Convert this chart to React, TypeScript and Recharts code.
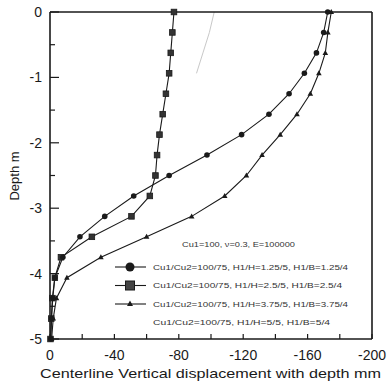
import React from 'react';
import { LineChart, Line, XAxis, YAxis, Legend } from 'recharts';

// depth stations (m), shared by every curve
const depth = [0, -0.3125, -0.625, -0.9375, -1.25, -1.5625, -1.875, -2.1875, -2.5, -2.8125, -3.125, -3.4375, -3.75, -4.0625, -4.375, -4.6875, -5];

// centerline vertical displacement (mm) at each depth station
const dispH125 = [-172.5, -170, -165.5, -158, -148.5, -136, -119, -97.5, -74, -52, -34, -18.6, -8, -3, -1.7, -1, -0.5];
const dispH25 = [-77, -76, -75, -74, -72, -70, -68, -66.5, -65.5, -62, -50.6, -26, -6.8, -3, -1.5, -0.8, -0.3];
const dispH375 = [-174.7, -172.6, -171, -167, -161.7, -153.4, -143, -131.7, -122, -108.5, -88, -60, -31.6, -10.5, -4, -2, -1];
const dispH5 = [-102, -99, -95, -91];

const xTicks = [0, -20, -40, -60, -80, -100, -120, -140, -160, -180, -200];
const yTicks = [0, -0.5, -1, -1.5, -2, -2.5, -3, -3.5, -4, -4.5, -5];

const legendHeader = 'Cu1=100, \u03bd=0.3, E=100000';
const seriesNames = [
  'Cu1/Cu2=100/75, H1/H=1.25/5, H1/B=1.25/4',
  'Cu1/Cu2=100/75, H1/H=2.5/5, H1/B=2.5/4',
  'Cu1/Cu2=100/75, H1/H=3.75/5, H1/B=3.75/4',
  'Cu1/Cu2=100/75, H1/H=5/5, H1/B=5/4',
];

const toPoints = (xs: number[]) => xs.map((x, i) => ({ x, y: depth[i] }));

const INK = '#1a1a1a';
const FONT = '"Liberation Sans", Arial, sans-serif';

const CircleDot = (p: any) => <circle key={`c${p.index}`} cx={p.cx} cy={p.cy} r={2.8} fill={INK} />;
const SquareDot = (p: any) => (
  <rect key={`s${p.index}`} x={p.cx - 2.8} y={p.cy - 2.8} width={5.6} height={5.6} fill="#333" stroke={INK} strokeWidth={0.8} />
);
const TriDot = (p: any) => (
  <path key={`t${p.index}`} d={`M${p.cx},${p.cy - 3} L${p.cx + 2.8},${p.cy + 2} L${p.cx - 2.8},${p.cy + 2} Z`} fill={INK} />
);

const BottomTick = ({ x, y, payload }: any) => (
  <g>
    <line x1={x} y1={y} x2={x} y2={y - 5} stroke={INK} strokeWidth={1.2} />
    {payload.value % 40 === 0 && (
      <text x={x} y={y + 21} textAnchor="middle" fontSize={14} fontFamily={FONT} fill={INK}>
        {payload.value}
      </text>
    )}
  </g>
);

const TopTick = ({ x, y }: any) => <line x1={x} y1={y} x2={x} y2={y + 5} stroke={INK} strokeWidth={1.2} />;

const LeftTick = ({ x, y, payload }: any) => {
  const major = Number.isInteger(payload.value);
  return (
    <g>
      <line x1={x} y1={y} x2={x + (major ? 9 : 5)} y2={y} stroke={INK} strokeWidth={1.2} />
      {major && (
        <text x={x - 8} y={y + 5} textAnchor="end" fontSize={14} fontFamily={FONT} fill={INK}>
          {payload.value}
        </text>
      )}
    </g>
  );
};

const RightTick = ({ x, y, payload }: any) => {
  const major = Number.isInteger(payload.value);
  return <line x1={x} y1={y} x2={x - (major ? 10 : 5)} y2={y} stroke={INK} strokeWidth={1.2} />;
};

const DepthTitle = () => (
  <text x={19} y={176} transform="rotate(-90 19 176)" textAnchor="middle" fontSize={13} fontFamily={FONT} fill={INK}>
    Depth m
  </text>
);

const DispTitle = () => (
  <text x={40} y={378} textLength={341} lengthAdjust="spacingAndGlyphs" fontSize={13.5} fontFamily={FONT} fill={INK}>
    Centerline Vertical displacement with depth  mm
  </text>
);

// legend box drawn in the lower right of the plot
const rowY = [35, 53.5, 72, 90.5];
const rowWidths = [195, 189, 195, 177];

const LegendBox = () => (
  <svg width={280} height={100} style={{ display: 'block' }}>
    <text x={82} y={15} textLength={113} lengthAdjust="spacingAndGlyphs" fontSize={7} fontFamily={FONT} fill="#333">
      {legendHeader}
    </text>
    {seriesNames.map((name, i) => {
      const cy = rowY[i];
      return (
        <g key={name}>
          {i < 3 && <line x1={15} y1={cy} x2={46} y2={cy} stroke={INK} strokeWidth={1.1} />}
          {i === 0 && <circle cx={30} cy={cy} r={4.5} fill={INK} />}
          {i === 1 && <rect x={25.5} y={cy - 4.5} width={9} height={9} fill="#444" stroke={INK} strokeWidth={1} />}
          {i === 2 && <path d={`M30,${cy - 3.5} L33,${cy + 2} L27,${cy + 2} Z`} fill={INK} />}
          <text x={53} y={cy + 2.5} textLength={rowWidths[i]} lengthAdjust="spacingAndGlyphs" fontSize={7} fontFamily={FONT} fill="#333">
            {name}
          </text>
        </g>
      );
    })}
  </svg>
);

export default function App() {
  return (
    <div style={{ position: 'absolute', left: 0, top: 0, width: 392, height: 386, background: '#fff' }}>
      <LineChart width={392} height={386} margin={{ top: 11, right: 19, bottom: 46, left: 49 }}>
        <XAxis
          xAxisId="b"
          type="number"
          dataKey="x"
          domain={[-200, 0]}
          reversed
          ticks={xTicks}
          interval={0}
          height={1}
          tickSize={0}
          tickMargin={0}
          tick={<BottomTick />}
          axisLine={{ stroke: INK, strokeWidth: 1.6 }}
          label={<DispTitle />}
        />
        <XAxis
          xAxisId="t"
          orientation="top"
          type="number"
          dataKey="x"
          domain={[-200, 0]}
          reversed
          ticks={xTicks}
          interval={0}
          height={1}
          tickSize={0}
          tickMargin={0}
          tick={<TopTick />}
          axisLine={{ stroke: INK, strokeWidth: 1.6 }}
        />
        <YAxis
          yAxisId="l"
          type="number"
          dataKey="y"
          domain={[-5, 0]}
          ticks={yTicks}
          interval={0}
          width={1}
          tickSize={0}
          tickMargin={0}
          tick={<LeftTick />}
          axisLine={{ stroke: INK, strokeWidth: 1.6 }}
          label={<DepthTitle />}
        />
        <YAxis
          yAxisId="r"
          orientation="right"
          type="number"
          dataKey="y"
          domain={[-5, 0]}
          ticks={yTicks}
          interval={0}
          width={1}
          tickSize={0}
          tickMargin={0}
          tick={<RightTick />}
          axisLine={{ stroke: INK, strokeWidth: 1.6 }}
        />
        <Legend
          layout="vertical"
          align="center"
          verticalAlign="middle"
          content={<LegendBox />}
          wrapperStyle={{ left: 100, top: 232, width: 280, height: 100 }}
        />
        <Line xAxisId="b" yAxisId="l" data={toPoints(dispH5)} dataKey="y" stroke="#c8c8c8" strokeWidth={1} dot={false} isAnimationActive={false} />
        <Line xAxisId="b" yAxisId="l" data={toPoints(dispH375)} dataKey="y" stroke={INK} strokeWidth={1.1} dot={TriDot} isAnimationActive={false} />
        <Line xAxisId="b" yAxisId="l" data={toPoints(dispH25)} dataKey="y" stroke={INK} strokeWidth={1.1} dot={SquareDot} isAnimationActive={false} />
        <Line xAxisId="b" yAxisId="l" data={toPoints(dispH125)} dataKey="y" stroke={INK} strokeWidth={1.1} dot={CircleDot} isAnimationActive={false} />
      </LineChart>
    </div>
  );
}
